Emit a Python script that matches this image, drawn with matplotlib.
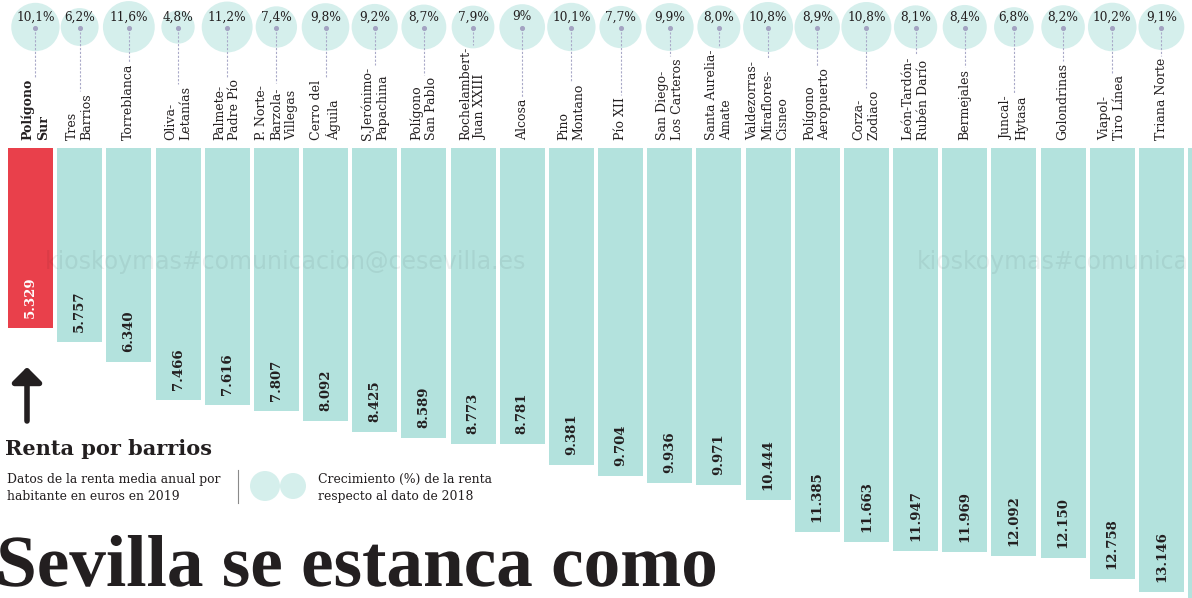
import matplotlib
matplotlib.use('Agg')
import matplotlib.pyplot as plt
from matplotlib.patches import Circle, PathPatch
from matplotlib.textpath import TextPath
from matplotlib.font_manager import FontProperties
from matplotlib.transforms import Affine2D

# data: renta media anual por habitante (euros, 2019) y crecimiento vs 2018
barrios = ["Polígono\nSur", "Tres\nBarrios", "Torreblanca", "Oliva-\nLetanías",
           "Palmete-\nPadre Pío", "P. Norte-\nBarzola-\nVillegas", "Cerro del\nÁguila",
           "S.Jerónimo-\nPapachina", "Polígono\nSan Pablo", "Rochelambert-\nJuan XXIII",
           "Alcosa", "Pino\nMontano", "Pío XII", "San Diego-\nLos Carteros",
           "Santa Aurelia-\nAmate", "Valdezorras-\nMiraflores-\nCisneo", "Polígono\nAeropuerto",
           "Corza-\nZodiaco", "León-Tardón-\nRubén Darío", "Bermejales", "Juncal-\nHytasa",
           "Golondrinas", "Viapol-\nTiro Línea", "Triana Norte"]
renta = [5329, 5757, 6340, 7466, 7616, 7807, 8092, 8425, 8589, 8773, 8781, 9381,
         9704, 9936, 9971, 10444, 11385, 11663, 11947, 11969, 12092, 12150, 12758, 13146]
crecimiento_txt = ["10,1%", "6,2%", "11,6%", "4,8%", "11,2%", "7,4%", "9,8%", "9,2%",
                   "8,7%", "7,9%", "9%", "10,1%", "7,7%", "9,9%", "8,0%", "10,8%",
                   "8,9%", "10,8%", "8,1%", "8,4%", "6,8%", "8,2%", "10,2%", "9,1%"]
crecimiento = [float(s.rstrip('%').replace(',', '.')) for s in crecimiento_txt]
renta_siguiente = 13700  # next barrio, cut off at the right edge

TEAL = '#b3e2dd'
RED = '#e9404b'
INK = '#231f20'
SERIF = 'DejaVu Serif'

W, H = 1192, 598
BAR_TOP = 148
PX_PER_EURO = 0.03375
pitch, first_x = 49.17, 30.5

fig = plt.figure(figsize=(W / 100, H / 100), dpi=100)
xlim = (-first_x / pitch, (W - first_x) / pitch)

# bars hanging down
ax = fig.add_axes([0, 0, 1, (H - BAR_TOP) / H])
n = len(renta)
xs = list(range(n + 1))
colors = [RED] + [TEAL] * n
ax.bar(xs, renta + [renta_siguiente], width=0.915, color=colors, linewidth=0)
ax.set_xlim(*xlim)
ax.set_ylim((H - BAR_TOP) / PX_PER_EURO, 0)
ax.axis('off')
for i, v in enumerate(renta):
    ax.text(i, v - 10 / PX_PER_EURO, f"{v:,}".replace(',', '.'), rotation=90,
            ha='center', va='bottom', fontsize=9.5, fontweight='bold', family=SERIF,
            color='white' if i == 0 else INK)

# circles + names on top
ax_top = fig.add_axes([0, (H - BAR_TOP) / H, 1, BAR_TOP / H])
ax_top.set_xlim(*xlim)
ax_top.set_ylim(BAR_TOP, 0)
ax_top.axis('off')
cy = 27
top_x = [i + (0.1 if i == 0 else 0) for i in range(n)]
ax_top.scatter(top_x, [cy] * n, s=[120 * g for g in crecimiento], color=TEAL,
               alpha=0.55, edgecolors='none', zorder=1)
ax_top.scatter(top_x, [cy + 1] * n, s=7, color='#a3a3c2', zorder=3)
labels = []
for i, (name, g) in enumerate(zip(barrios, crecimiento_txt)):
    ax_top.text(top_x[i], 17, g, ha='center', va='center', fontsize=8.7, family=SERIF,
                color=INK, zorder=4)
    t = ax_top.text(top_x[i], 140, name, rotation=90, ha='center', va='bottom',
                    multialignment='left', fontsize=9, family=SERIF, color=INK,
                    fontweight='bold' if i == 0 else 'normal')
    labels.append(t)

fig.canvas.draw()
inv = ax_top.transData.inverted()
for i, t in enumerate(labels):
    bb = t.get_window_extent()
    ytop = inv.transform((0, bb.y1))[1]
    ax_top.plot([top_x[i], top_x[i]], [cy + 1, ytop - 2], color='#a9a9c8', lw=0.8,
                linestyle=(0, (2, 1.5)), zorder=2)

# overlay in pixel coordinates
ax0 = fig.add_axes([0, 0, 1, 1])
ax0.patch.set_alpha(0)
ax0.set_xlim(0, W)
ax0.set_ylim(H, 0)
ax0.axis('off')

ax0.text(45, 262, "kioskoymas#comunicacion@cesevilla.es", fontsize=17,
         family='DejaVu Sans', color='black', alpha=0.06, va='center')
ax0.text(917, 262, "kioskoymas#comunica", fontsize=17,
         family='DejaVu Sans', color='black', alpha=0.06, va='center')

ax0.annotate('', xy=(27, 367), xytext=(27, 421),
             arrowprops=dict(arrowstyle='-|>,head_length=0.45,head_width=0.45', lw=4,
                             color=INK, shrinkA=0, shrinkB=0, mutation_scale=20))

ax0.text(5, 455, "Renta por barrios", fontsize=15, fontweight='bold', family=SERIF,
         color=INK, va='baseline')
ax0.text(7, 483, "Datos de la renta media anual por", fontsize=8.9, family=SERIF,
         color=INK, va='baseline')
ax0.text(7, 500, "habitante en euros en 2019", fontsize=8.9, family=SERIF,
         color=INK, va='baseline')
ax0.plot([237.5, 237.5], [470, 503], color='#8a8a8a', lw=0.8)
ax0.add_patch(Circle((265, 486), 15, color=TEAL, alpha=0.55, lw=0))
ax0.add_patch(Circle((293, 486), 13, color=TEAL, alpha=0.55, lw=0))
ax0.text(318, 483, "Crecimiento (%) de la renta", fontsize=8.9, family=SERIF,
         color=INK, va='baseline')
ax0.text(318, 500, "respecto al dato de 2018", fontsize=8.9, family=SERIF,
         color=INK, va='baseline')

# big headline, fitted to its box
fp = FontProperties(family='Liberation Serif', weight='bold')
tp = TextPath((0, 0), "Sevilla se estanca como", size=100, prop=fp)
bb = tp.get_extents()
sx = 715 / bb.width
sy = 51 / bb.y1
tr = Affine2D().translate(-bb.x0, 0).scale(sx, -sy).translate(0, 586)
ax0.add_patch(PathPatch(tr.transform_path(tp), color=INK, lw=0))

fig.savefig('out.png', dpi=100)
